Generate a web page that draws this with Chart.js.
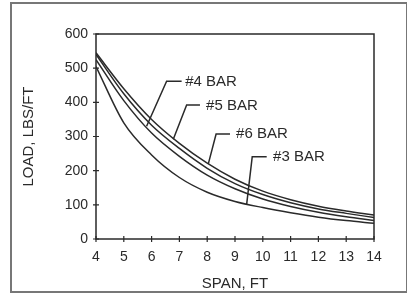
<!DOCTYPE html>
<html>
<head>
<meta charset="utf-8">
<script src="https://cdn.jsdelivr.net/npm/chart.js@4"></script>
<style>
  body { margin: 0; background: #fff; }
  #wrap { position: relative; width: 407px; height: 293px; }
  #frame { position: absolute; left: 10px; top: 2px; width: 394px; height: 287px; border: 2px solid #777; }
  #c { position: absolute; left: 0; top: 0; }
</style>
</head>
<body>
<div id="wrap">
  <div id="frame"></div>
  <canvas id="c" width="407" height="293"></canvas>
</div>
<script>
/*==== data ====*/
const spans = [4, 5, 6, 7, 8, 9, 10, 11, 12, 13, 14];
const bar6 = [545, 440, 350, 280, 222, 175, 140, 115, 96, 82, 70];
const bar5 = [540, 425, 333, 265, 207, 162, 130, 106, 88, 75, 63];
const bar4 = [525, 405, 310, 242, 187, 147, 117, 95, 78, 65, 54];
const bar3 = [505, 340, 246, 180, 137, 110, 92, 77, 64, 54, 46];
const yTicks = [0, 100, 200, 300, 400, 500, 600];

// callout labels: text, text position, leader line points (data units)
const callouts = [
    { text: '#4 BAR', x: 7.21, y: 459, line: [[7.08, 462], [6.54, 462], [5.82, 330]] },
    { text: '#5 BAR', x: 7.96, y: 389, line: [[7.74, 392], [7.26, 392], [6.78, 292]] },
    { text: '#6 BAR', x: 9.04, y: 307, line: [[8.82, 307], [8.32, 307], [8.04, 220]] },
    { text: '#3 BAR', x: 10.37, y: 240, line: [[10.14, 241], [9.62, 241], [9.42, 102]] }
];

const ink = '#2a2a2a';
const font = "'Liberation Sans', Arial, sans-serif";

function toPts(vals) {
    return spans.map((s, i) => ({ x: s, y: vals[i] }));
}
function lineSet(vals) {
    return {
        data: toPts(vals),
        borderColor: ink,
        borderWidth: 1.5,
        pointRadius: 0,
        fill: false,
        cubicInterpolationMode: 'monotone'
    };
}

/*==== plugin: plot box, crossing ticks, callouts ====*/
const extras = {
    id: 'extras',
    afterDatasetsDraw(chart) {
        const ctx = chart.ctx;
        const a = chart.chartArea;
        const xs = chart.scales.x, ys = chart.scales.y;
        ctx.save();
        ctx.strokeStyle = ink;
        ctx.lineWidth = 1.5;
        ctx.strokeRect(a.left, a.top, a.right - a.left, a.bottom - a.top);
        // ticks crossing the axes
        ctx.lineWidth = 1.2;
        ctx.beginPath();
        spans.forEach(s => {
            const px = xs.getPixelForValue(s);
            ctx.moveTo(px, a.bottom - 3);
            ctx.lineTo(px, a.bottom + 3);
        });
        yTicks.forEach(v => {
            const py = ys.getPixelForValue(v);
            ctx.moveTo(a.left - 3, py);
            ctx.lineTo(a.left + 3, py);
        });
        ctx.stroke();
        // callouts
        ctx.fillStyle = ink;
        ctx.font = '15px ' + font;
        ctx.textBaseline = 'middle';
        ctx.lineWidth = 1.5;
        callouts.forEach(c => {
            ctx.beginPath();
            c.line.forEach((p, i) => {
                const px = xs.getPixelForValue(p[0]);
                const py = ys.getPixelForValue(p[1]);
                if (i === 0) ctx.moveTo(px, py); else ctx.lineTo(px, py);
            });
            ctx.stroke();
            ctx.fillText(c.text, xs.getPixelForValue(c.x), ys.getPixelForValue(c.y));
        });
        ctx.restore();
    }
};

/*==== config ====*/
const config = {
    type: 'line',
    data: {
        datasets: [lineSet(bar6), lineSet(bar5), lineSet(bar4), lineSet(bar3)]
    },
    options: {
        responsive: false,
        animation: false,
        layout: { padding: { left: 0, top: 34, right: 33, bottom: 0 } },
        plugins: { legend: { display: false }, tooltip: { enabled: false } },
        scales: {
            x: {
                type: 'linear',
                min: 4,
                max: 14,
                afterFit(scale) { scale.height = 54; },
                afterBuildTicks(scale) { scale.ticks = spans.map(v => ({ value: v })); },
                grid: { display: false, drawTicks: false },
                border: { display: false },
                ticks: { color: ink, padding: 10, font: { size: 14, family: font }, maxRotation: 0 },
                title: { display: true, text: 'SPAN, FT', color: ink, font: { size: 15, family: font }, padding: { top: 6, bottom: 0 } }
            },
            y: {
                min: 0,
                max: 600,
                afterFit(scale) { scale.width = 96; },
                afterBuildTicks(scale) { scale.ticks = yTicks.map(v => ({ value: v })); },
                grid: { display: false, drawTicks: false },
                border: { display: false },
                ticks: { color: ink, padding: 8, font: { size: 14, family: font } },
                title: { display: true, text: 'LOAD, LBS/FT', color: ink, font: { size: 15, family: font }, padding: { top: 20, bottom: 0 } }
            }
        }
    },
    plugins: [extras]
};

/*===== render =====*/
const myChart = new Chart(document.getElementById('c'), config);
</script>
</body>
</html>
